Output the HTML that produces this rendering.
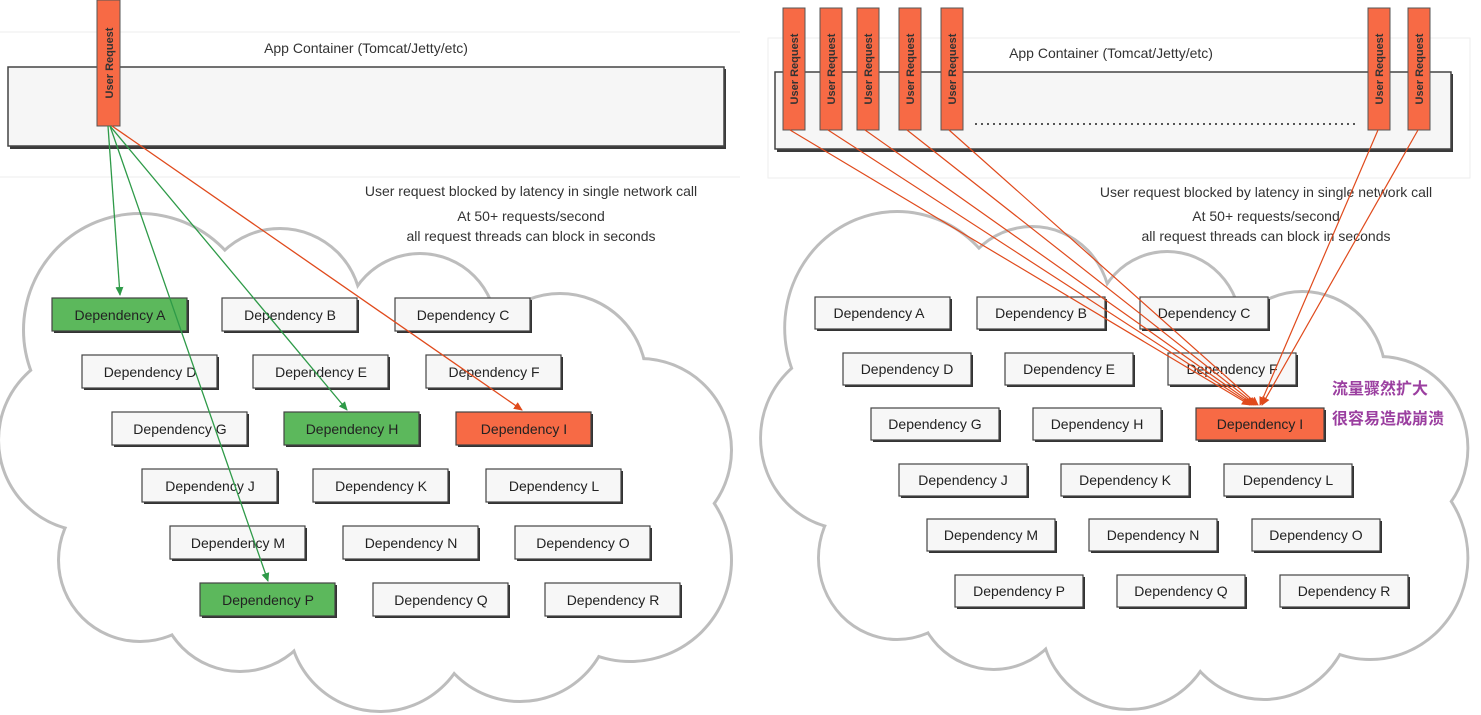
<!DOCTYPE html>
<html><head><meta charset="utf-8"><style>
html,body{margin:0;padding:0;background:#fff;}
svg{display:block;font-family:"Liberation Sans",sans-serif;}
</style></head><body>
<svg width="1481" height="715" viewBox="0 0 1481 715" xmlns="http://www.w3.org/2000/svg">
<defs>
<marker id="ag" markerWidth="10" markerHeight="10" refX="8" refY="5" orient="auto" markerUnits="userSpaceOnUse"><path d="M0,1 L9,5 L0,9 z" fill="#2e9a48"/></marker>
<marker id="ao" markerWidth="10" markerHeight="10" refX="8" refY="5" orient="auto" markerUnits="userSpaceOnUse"><path d="M0,1 L9,5 L0,9 z" fill="#e04a1c"/></marker>
<g id="cloud">
<circle cx="140" cy="330" r="115"/><circle cx="280" cy="310" r="80"/><circle cx="420" cy="330" r="75"/>
<circle cx="560" cy="380" r="85"/><circle cx="640" cy="450" r="90"/><circle cx="630" cy="560" r="100"/>
<circle cx="520" cy="610" r="90"/><circle cx="380" cy="620" r="90"/><circle cx="240" cy="590" r="80"/>
<circle cx="140" cy="560" r="80"/><circle cx="90" cy="440" r="90"/><circle cx="350" cy="450" r="150"/>
</g>
<g id="fill">
<circle cx="200" cy="450" r="110"/><circle cx="500" cy="470" r="110"/><circle cx="350" cy="380" r="90"/>
<circle cx="450" cy="560" r="100"/><circle cx="250" cy="530" r="100"/><circle cx="560" cy="520" r="90"/>
</g>
</defs>
<line x1="0" y1="32" x2="740" y2="32" stroke="#eee"/>
<line x1="0" y1="177" x2="740" y2="177" stroke="#eee"/>
<rect x="768" y="38" width="702" height="140" fill="none" stroke="#eee"/>

<g fill="#fff" stroke="#bdbdbd" stroke-width="6"><use href="#cloud"/></g>
<g fill="#fff" stroke="none"><use href="#cloud"/><use href="#fill"/></g>
<g transform="translate(762,-2) scale(0.965,1)">
<g fill="#fff" stroke="#bdbdbd" stroke-width="6"><use href="#cloud"/></g>
<g fill="#fff" stroke="none"><use href="#cloud"/><use href="#fill"/></g>
</g>

<text x="366" y="53" font-size="14" text-anchor="middle" fill="#333">App Container (Tomcat/Jetty/etc)</text>
<rect x="10" y="69" width="716" height="80" fill="#3a3a3a"/>
<rect x="8" y="67" width="716" height="79" fill="#f6f6f6" stroke="#444" stroke-width="1.5"/>
<rect x="97" y="0" width="23" height="126" fill="#f76a45" stroke="#555"/>
<text transform="translate(113,63) rotate(-90)" font-size="11" font-weight="bold" text-anchor="middle" fill="#333">User Request</text>

<text x="531" y="196" font-size="14" text-anchor="middle" fill="#333">User request blocked by latency in single network call</text>
<text x="531" y="221" font-size="14" text-anchor="middle" fill="#333">At 50+ requests/second</text>
<text x="531" y="241" font-size="14" text-anchor="middle" fill="#333">all request threads can block in seconds</text>

<text x="1111" y="58" font-size="14" text-anchor="middle" fill="#333">App Container (Tomcat/Jetty/etc)</text>
<rect x="777" y="74" width="676" height="78" fill="#3a3a3a"/>
<rect x="775" y="72" width="676" height="77" fill="#f6f6f6" stroke="#444" stroke-width="1.5"/>
<line x1="975" y1="124" x2="1355" y2="124" stroke="#555" stroke-width="2" stroke-dasharray="2,4"/>
<g fill="#f76a45" stroke="#555">
<rect x="783" y="8" width="22" height="122"/><rect x="820" y="8" width="22" height="122"/><rect x="857" y="8" width="22" height="122"/>
<rect x="899" y="8" width="22" height="122"/><rect x="941" y="8" width="22" height="122"/><rect x="1368" y="8" width="22" height="122"/><rect x="1408" y="8" width="22" height="122"/>
</g>
<g font-size="11" font-weight="bold" fill="#333" text-anchor="middle">
<text transform="translate(798,69) rotate(-90)">User Request</text>
<text transform="translate(835,69) rotate(-90)">User Request</text>
<text transform="translate(872,69) rotate(-90)">User Request</text>
<text transform="translate(914,69) rotate(-90)">User Request</text>
<text transform="translate(956,69) rotate(-90)">User Request</text>
<text transform="translate(1383,69) rotate(-90)">User Request</text>
<text transform="translate(1423,69) rotate(-90)">User Request</text>
</g>
<text x="1266" y="197" font-size="14" text-anchor="middle" fill="#333">User request blocked by latency in single network call</text>
<text x="1266" y="221" font-size="14" text-anchor="middle" fill="#333">At 50+ requests/second</text>
<text x="1266" y="241" font-size="14" text-anchor="middle" fill="#333">all request threads can block in seconds</text>

<g font-size="14" text-anchor="middle" fill="#222">
<g stroke="#444" stroke-width="1.2">
<rect x="54" y="300" width="135" height="33" fill="#333" stroke="none"/><rect x="52" y="298" width="135" height="33" fill="#5cb85c"/>
<rect x="224" y="300" width="135" height="33" fill="#333" stroke="none"/><rect x="222" y="298" width="135" height="33" fill="#f7f7f7"/>
<rect x="397" y="300" width="135" height="33" fill="#333" stroke="none"/><rect x="395" y="298" width="135" height="33" fill="#f7f7f7"/>
<rect x="84" y="357" width="135" height="33" fill="#333" stroke="none"/><rect x="82" y="355" width="135" height="33" fill="#f7f7f7"/>
<rect x="255" y="357" width="135" height="33" fill="#333" stroke="none"/><rect x="253" y="355" width="135" height="33" fill="#f7f7f7"/>
<rect x="428" y="357" width="135" height="33" fill="#333" stroke="none"/><rect x="426" y="355" width="135" height="33" fill="#f7f7f7"/>
<rect x="114" y="414" width="135" height="33" fill="#333" stroke="none"/><rect x="112" y="412" width="135" height="33" fill="#f7f7f7"/>
<rect x="286" y="414" width="135" height="33" fill="#333" stroke="none"/><rect x="284" y="412" width="135" height="33" fill="#5cb85c"/>
<rect x="458" y="414" width="135" height="33" fill="#333" stroke="none"/><rect x="456" y="412" width="135" height="33" fill="#f76a45"/>
<rect x="144" y="471" width="135" height="33" fill="#333" stroke="none"/><rect x="142" y="469" width="135" height="33" fill="#f7f7f7"/>
<rect x="315" y="471" width="135" height="33" fill="#333" stroke="none"/><rect x="313" y="469" width="135" height="33" fill="#f7f7f7"/>
<rect x="488" y="471" width="135" height="33" fill="#333" stroke="none"/><rect x="486" y="469" width="135" height="33" fill="#f7f7f7"/>
<rect x="172" y="528" width="135" height="33" fill="#333" stroke="none"/><rect x="170" y="526" width="135" height="33" fill="#f7f7f7"/>
<rect x="345" y="528" width="135" height="33" fill="#333" stroke="none"/><rect x="343" y="526" width="135" height="33" fill="#f7f7f7"/>
<rect x="517" y="528" width="135" height="33" fill="#333" stroke="none"/><rect x="515" y="526" width="135" height="33" fill="#f7f7f7"/>
<rect x="202" y="585" width="135" height="33" fill="#333" stroke="none"/><rect x="200" y="583" width="135" height="33" fill="#5cb85c"/>
<rect x="375" y="585" width="135" height="33" fill="#333" stroke="none"/><rect x="373" y="583" width="135" height="33" fill="#f7f7f7"/>
<rect x="547" y="585" width="135" height="33" fill="#333" stroke="none"/><rect x="545" y="583" width="135" height="33" fill="#f7f7f7"/>
</g>
<text x="120" y="320">Dependency A</text><text x="290" y="320">Dependency B</text><text x="463" y="320">Dependency C</text>
<text x="150" y="377">Dependency D</text><text x="321" y="377">Dependency E</text><text x="494" y="377">Dependency F</text>
<text x="180" y="434">Dependency G</text><text x="352" y="434">Dependency H</text><text x="524" y="434">Dependency I</text>
<text x="210" y="491">Dependency J</text><text x="381" y="491">Dependency K</text><text x="554" y="491">Dependency L</text>
<text x="238" y="548">Dependency M</text><text x="411" y="548">Dependency N</text><text x="583" y="548">Dependency O</text>
<text x="268" y="605">Dependency P</text><text x="441" y="605">Dependency Q</text><text x="613" y="605">Dependency R</text>
</g>

<g font-size="14" text-anchor="middle" fill="#222">
<g stroke="#444" stroke-width="1.2">
<rect x="817" y="299" width="135" height="32" fill="#333" stroke="none"/><rect x="815" y="297" width="135" height="32" fill="#f7f7f7"/>
<rect x="979" y="299" width="128" height="32" fill="#333" stroke="none"/><rect x="977" y="297" width="128" height="32" fill="#f7f7f7"/>
<rect x="1142" y="299" width="128" height="32" fill="#333" stroke="none"/><rect x="1140" y="297" width="128" height="32" fill="#f7f7f7"/>
<rect x="845" y="355" width="128" height="32" fill="#333" stroke="none"/><rect x="843" y="353" width="128" height="32" fill="#f7f7f7"/>
<rect x="1007" y="355" width="128" height="32" fill="#333" stroke="none"/><rect x="1005" y="353" width="128" height="32" fill="#f7f7f7"/>
<rect x="1170" y="355" width="128" height="32" fill="#333" stroke="none"/><rect x="1168" y="353" width="128" height="32" fill="#f7f7f7"/>
<rect x="873" y="410" width="128" height="32" fill="#333" stroke="none"/><rect x="871" y="408" width="128" height="32" fill="#f7f7f7"/>
<rect x="1035" y="410" width="128" height="32" fill="#333" stroke="none"/><rect x="1033" y="408" width="128" height="32" fill="#f7f7f7"/>
<rect x="1198" y="410" width="128" height="32" fill="#333" stroke="none"/><rect x="1196" y="408" width="128" height="32" fill="#f76a45"/>
<rect x="901" y="466" width="128" height="32" fill="#333" stroke="none"/><rect x="899" y="464" width="128" height="32" fill="#f7f7f7"/>
<rect x="1063" y="466" width="128" height="32" fill="#333" stroke="none"/><rect x="1061" y="464" width="128" height="32" fill="#f7f7f7"/>
<rect x="1226" y="466" width="128" height="32" fill="#333" stroke="none"/><rect x="1224" y="464" width="128" height="32" fill="#f7f7f7"/>
<rect x="929" y="521" width="128" height="32" fill="#333" stroke="none"/><rect x="927" y="519" width="128" height="32" fill="#f7f7f7"/>
<rect x="1091" y="521" width="128" height="32" fill="#333" stroke="none"/><rect x="1089" y="519" width="128" height="32" fill="#f7f7f7"/>
<rect x="1254" y="521" width="128" height="32" fill="#333" stroke="none"/><rect x="1252" y="519" width="128" height="32" fill="#f7f7f7"/>
<rect x="957" y="577" width="128" height="32" fill="#333" stroke="none"/><rect x="955" y="575" width="128" height="32" fill="#f7f7f7"/>
<rect x="1119" y="577" width="128" height="32" fill="#333" stroke="none"/><rect x="1117" y="575" width="128" height="32" fill="#f7f7f7"/>
<rect x="1282" y="577" width="128" height="32" fill="#333" stroke="none"/><rect x="1280" y="575" width="128" height="32" fill="#f7f7f7"/>
</g>
<text x="879" y="318">Dependency A</text><text x="1041" y="318">Dependency B</text><text x="1204" y="318">Dependency C</text>
<text x="907" y="374">Dependency D</text><text x="1069" y="374">Dependency E</text><text x="1232" y="374">Dependency F</text>
<text x="935" y="429">Dependency G</text><text x="1097" y="429">Dependency H</text><text x="1260" y="429">Dependency I</text>
<text x="963" y="485">Dependency J</text><text x="1125" y="485">Dependency K</text><text x="1288" y="485">Dependency L</text>
<text x="991" y="540">Dependency M</text><text x="1153" y="540">Dependency N</text><text x="1316" y="540">Dependency O</text>
<text x="1019" y="596">Dependency P</text><text x="1181" y="596">Dependency Q</text><text x="1344" y="596">Dependency R</text>
</g>

<g fill="none" stroke-width="1.3">
<line x1="108" y1="126" x2="120" y2="295" stroke="#2e9a48" marker-end="url(#ag)"/>
<line x1="110" y1="126" x2="347" y2="410" stroke="#2e9a48" marker-end="url(#ag)"/>
<line x1="110" y1="126" x2="268" y2="581" stroke="#2e9a48" marker-end="url(#ag)"/>
<line x1="112" y1="126" x2="522" y2="410" stroke="#e04a1c" marker-end="url(#ao)"/>
</g>
<g fill="none" stroke="#e04a1c" stroke-width="1.2" marker-end="url(#ao)">
<line x1="790" y1="130" x2="1250" y2="405"/>
<line x1="828" y1="130" x2="1252" y2="405"/>
<line x1="865" y1="130" x2="1254" y2="405"/>
<line x1="907" y1="130" x2="1256" y2="405"/>
<line x1="949" y1="130" x2="1258" y2="405"/>
<line x1="1378" y1="130" x2="1260" y2="405"/>
<line x1="1418" y1="130" x2="1262" y2="405"/>
</g>

<g font-family="'Liberation Sans','Noto Sans CJK SC',sans-serif" font-size="16" font-weight="bold" fill="#9b3fa0">
<text x="1332" y="394">流量骤然扩大</text>
<text x="1332" y="424">很容易造成崩溃</text>
</g>
</svg>
</body></html>
